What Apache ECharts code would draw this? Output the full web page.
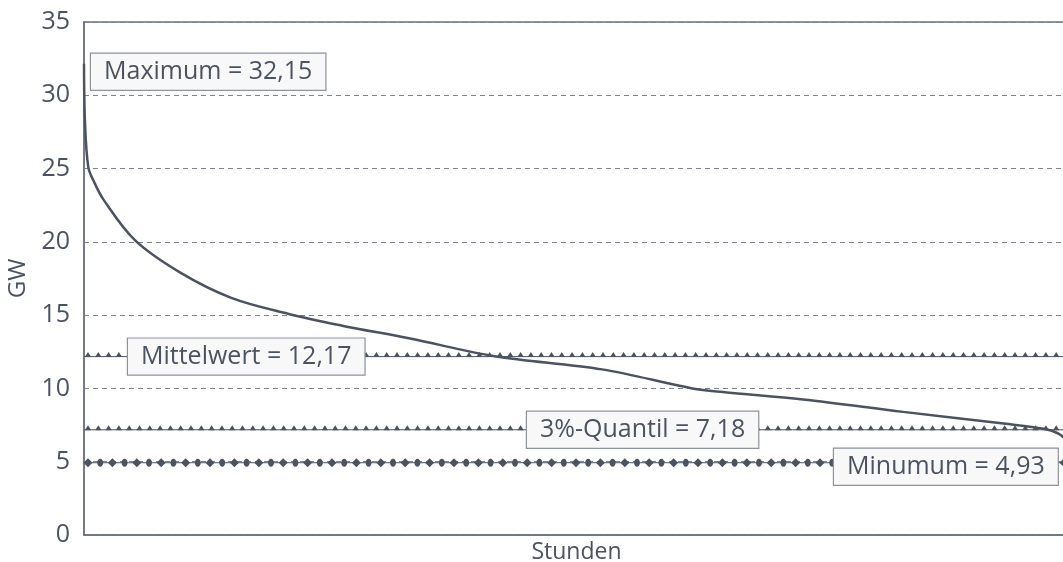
<!DOCTYPE html>
<html>
<head>
<meta charset="utf-8">
<script src="https://cdn.jsdelivr.net/npm/echarts@6/dist/echarts.min.js"></script>
<style>
html, body { margin: 0; padding: 0; background: #fff; }
#chart { width: 1063px; height: 562px; }
</style>
</head>
<body>
<div id="chart"></div>
<script>
// Jahresdauerlinie, Stunden sortiert nach Last
var hours = [0, 9, 38, 83, 172, 455, 857, 1304, 1813, 2286, 2900, 3652, 4607, 5411, 5679, 6393, 7286, 8179, 8536, 8670, 8732, 8760];
var load = [32.15, 28.1, 25.1, 24.2, 22.9, 20.1, 17.9, 16.2, 15.1, 14.3, 13.4, 12.2, 11.3, 10.0, 9.75, 9.25, 8.4, 7.6, 7.25, 6.9, 6.4, 4.93];

// Kennwerte
var refNames = ['Maximum = 32,15', 'Mittelwert = 12,17', '3%-Quantil = 7,18', 'Minumum = 4,93'];
var refValues = [32.15, 12.17, 7.18, 4.93];

var yMin = 0, yMax = 35, yStep = 5;
var hourMax = 8760;

var ink = '#4b5361';
var grey = '#7d848e';
var font = 'Open Sans';

// how each reference line is drawn (marker kind, label x in px, label y shift)
var refLook = [
    { marker: 'none', labelX: 91, dy: 8 },
    { marker: 'tri', labelX: 128, dy: 0 },
    { marker: 'tri', labelX: 527, dy: 0 },
    { marker: 'mix', labelX: 834, dy: 4 }
];

var curve = [];
for (var i = 0; i < hours.length; i++) curve.push([hours[i], load[i]]);

var refData = [];
for (var j = 0; j < refValues.length; j++) refData.push([refValues[j], j]);

function renderRef(params, api) {
    var k = api.value(1);
    var look = refLook[k];
    var y = api.coord([0, api.value(0)])[1];
    var cs = params.coordSys;
    var x0 = cs.x, x1 = cs.x + cs.width;
    var kids = [];
    var x, n;
    if (look.marker !== 'none') {
        kids.push({
            type: 'line',
            shape: { x1: x0, y1: y, x2: x1, y2: y },
            style: { stroke: ink, lineWidth: 1 }
        });
    }
    if (look.marker === 'tri') {
        var p = '';
        for (x = x0 + 4; x < x1; x += 10.3) {
            p += 'M' + (x - 3.2) + ' ' + (y + 0.5) + 'L' + (x + 3.2) + ' ' + (y + 0.5) + 'L' + x + ' ' + (y - 4.5) + 'Z';
        }
        kids.push({ type: 'path', shape: { pathData: p }, style: { fill: ink } });
    } else if (look.marker === 'mix') {
        n = 0;
        for (x = x0 + 4; x < x1; x += 12.2) {
            if (n % 2 === 0) {
                kids.push({ type: 'polygon', shape: { points: [[x - 4.5, y], [x, y - 4.5], [x + 4.5, y], [x, y + 4.5]] }, style: { fill: ink } });
            } else {
                kids.push({ type: 'ellipse', shape: { cx: x, cy: y, rx: 3, ry: 4 }, style: { fill: ink } });
            }
            n++;
        }
    }
    kids.push({
        type: 'text',
        x: look.labelX,
        y: y + look.dy,
        style: {
            text: refNames[k],
            fontFamily: font,
            fontSize: 25,
            fill: ink,
            verticalAlign: 'middle',
            backgroundColor: '#f8f8f9',
            borderColor: '#8d939b',
            borderWidth: 1.2,
            padding: [6, 13, 5, 13]
        }
    });
    return { type: 'group', children: kids };
}

var chart = echarts.init(document.getElementById('chart'), null, { renderer: 'canvas' });

chart.setOption({
    animation: false,
    backgroundColor: '#ffffff',
    textStyle: { fontFamily: font, color: ink },
    grid: {
        show: true,
        left: 84, top: 22, right: -6, bottom: 27,
        outerBoundsMode: 'none',
        containLabel: false,
        borderColor: '#6b717b',
        borderWidth: 1.5,
        backgroundColor: 'transparent'
    },
    xAxis: {
        type: 'value',
        min: 0, max: hourMax,
        name: 'Stunden',
        nameLocation: 'middle',
        nameGap: 6,
        nameTextStyle: { fontSize: 23, color: ink, fontFamily: font, verticalAlign: 'top' },
        axisLine: { show: true, lineStyle: { color: '#6b717b', width: 1.5 } },
        axisTick: { show: false },
        axisLabel: { show: false },
        splitLine: { show: false }
    },
    yAxis: {
        type: 'value',
        min: yMin, max: yMax, interval: yStep,
        name: 'GW',
        nameLocation: 'middle',
        nameGap: 50,
        nameTextStyle: { fontSize: 24, color: ink, fontFamily: font },
        axisLine: { show: true, lineStyle: { color: '#6b717b', width: 1.5 } },
        axisTick: { show: false },
        axisLabel: { fontSize: 25, color: ink, margin: 14, fontFamily: font },
        splitLine: { show: true, lineStyle: { color: grey, width: 1, type: [5, 4] } }
    },
    series: [
        {
            type: 'custom',
            name: 'Kennwerte',
            renderItem: renderRef,
            data: refData,
            encode: { y: 0 },
            z: 3,
            clip: false
        },
        {
            type: 'line',
            name: 'Last',
            data: curve,
            showSymbol: false,
            smooth: 0.35,
            lineStyle: { color: ink, width: 2.5 },
            z: 2
        }
    ]
});
</script>
</body>
</html>
